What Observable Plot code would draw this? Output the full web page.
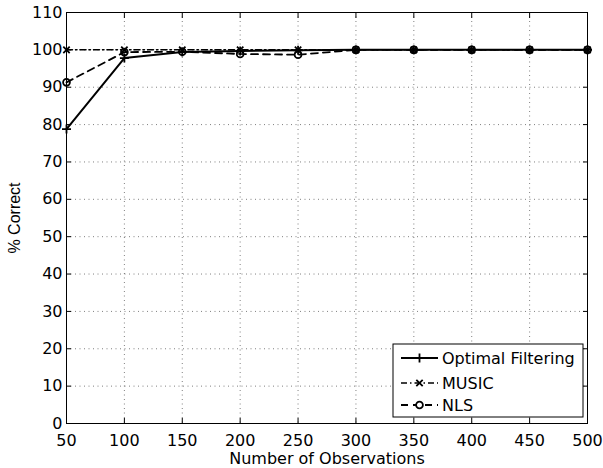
<!DOCTYPE html>
<html><head><meta charset="utf-8">
<script src="https://cdn.jsdelivr.net/npm/d3@7"></script>
<script src="https://cdn.jsdelivr.net/npm/@observablehq/plot@0.6"></script>
<style>body{margin:0;background:#fff} svg{display:block}</style>
</head><body><div id="chart"></div>
<script>
const observations = [50, 100, 150, 200, 250, 300, 350, 400, 450, 500];
const optimalFiltering = [78.8, 97.8, 99.4, 99.7, 99.9, 100, 100, 100, 100, 100];
const music = [100, 100, 100, 100, 100, 100, 100, 100, 100, 100];
const nls = [91.3, 99.4, 99.5, 98.9, 98.7, 100, 100, 100, 100, 100];
const xTicks = [50, 100, 150, 200, 250, 300, 350, 400, 450, 500];
const yTicks = [0, 10, 20, 30, 40, 50, 60, 70, 80, 90, 100, 110];
const seriesNames = ["Optimal Filtering", "MUSIC", "NLS"];
const seriesValues = [optimalFiltering, music, nls];

const styles = {
  "Optimal Filtering": {dash: null, width: 2, symbol: "plus", r: 3, sw: 1.8},
  "MUSIC": {dash: "6,3,1.5,3", width: 1.5, symbol: "times", r: 3, sw: 1.8},
  "NLS": {dash: "7,5", width: 1.8, symbol: "circle", r: 3.4, sw: 1.8}
};

const series = seriesNames.map((name, i) => ({
  name,
  rows: observations.map((x, j) => ({x, y: seriesValues[i][j]}))
}));

const W = 603, H = 468, mL = 66, mR = 16, mT = 12, mB = 45;
const gridStyle = {stroke: "#000", strokeOpacity: 0.5, strokeDasharray: "1,3.5"};
const noText = () => "";

const marks = [
  Plot.gridX(xTicks, gridStyle),
  Plot.gridY(yTicks, gridStyle),
  Plot.axisX(xTicks, {anchor: "bottom", tickSize: 0, tickPadding: 11, label: "Number of Observations", labelAnchor: "center", labelOffset: 40, labelArrow: "none"}),
  Plot.axisY(yTicks, {anchor: "left", tickSize: 0, tickPadding: 4, label: null}),
  Plot.axisY(yTicks, {anchor: "left", tickSize: 0, tickFormat: noText, label: "% Correct", labelAnchor: "center", labelOffset: 58, labelArrow: "none", fontFamily: "Liberation Sans"}),
  Plot.axisX(xTicks, {anchor: "bottom", tickSize: 5, dy: -5, tickFormat: noText, label: null}),
  Plot.axisX(xTicks, {anchor: "top", tickSize: 5, dy: 5, tickFormat: noText, label: null}),
  Plot.axisY(yTicks, {anchor: "left", tickSize: 5, dx: 5, tickFormat: noText, label: null}),
  Plot.axisY(yTicks, {anchor: "right", tickSize: 5, dx: -5, tickFormat: noText, label: null}),
  Plot.frame({stroke: "#000", strokeWidth: 1})
];

for (const s of series.slice().reverse()) {
  const st = styles[s.name];
  marks.push(Plot.line(s.rows, {x: "x", y: "y", stroke: "#000", strokeWidth: st.width, strokeDasharray: st.dash}));
}
for (const s of series) {
  const st = styles[s.name];
  marks.push(Plot.dot(s.rows, {x: "x", y: "y", symbol: st.symbol, r: st.r, stroke: "#000", strokeWidth: st.sw, fill: "none"}));
}

const chart = Plot.plot({
  width: W, height: H,
  marginLeft: mL, marginRight: mR, marginTop: mT, marginBottom: mB,
  style: {fontFamily: "DejaVu Sans", fontSize: "16px", color: "#000", background: "#fff", overflow: "visible"},
  x: {domain: [50, 500]},
  y: {domain: [0, 110]},
  marks
});

// Legend drawn inside the frame (lower right)
const svg = d3.select(chart);
const lg = svg.append("g").attr("class", "legend").attr("text-anchor", "start");
const boxW = 190, boxH = 73;
const bx = W - mR - 4 - boxW, by = H - mB - 6 - boxH;
lg.append("rect").attr("x", bx).attr("y", by).attr("width", boxW).attr("height", boxH)
  .attr("fill", "#fff").attr("stroke", "#000").attr("stroke-width", 1);
const rowY = [14, 39, 61];
seriesNames.forEach((name, i) => {
  const st = styles[name];
  const y = by + rowY[i];
  lg.append("line").attr("x1", bx + 8).attr("x2", bx + 45).attr("y1", y).attr("y2", y)
    .attr("stroke", "#000").attr("stroke-width", st.width).attr("stroke-dasharray", st.dash);
  const sym = {plus: d3.symbolPlus, times: d3.symbolTimes, circle: d3.symbolCircle}[st.symbol];
  lg.append("path").attr("d", d3.symbol(sym, Math.PI * st.r * st.r)())
    .attr("transform", `translate(${bx + 26.5},${y})`)
    .attr("fill", name === "NLS" ? "#fff" : "none").attr("stroke", "#000").attr("stroke-width", st.sw);
  lg.append("text").attr("x", bx + 49).attr("y", y).attr("dy", "0.36em").attr("text-anchor", "start")
    .attr("font-family", "DejaVu Sans").attr("font-size", 16).attr("fill", "#000").text(name);
});

document.getElementById("chart").append(chart);
</script>
</body></html>
